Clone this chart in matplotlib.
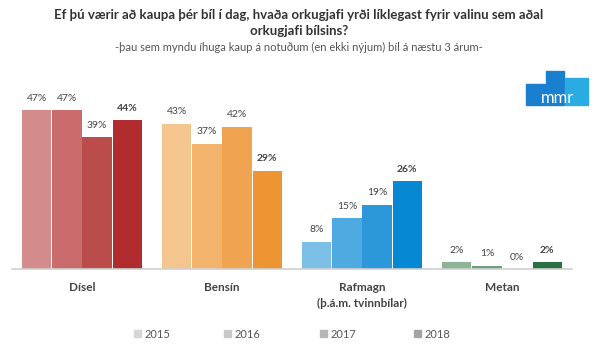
import numpy as np
import matplotlib.pyplot as plt
from matplotlib.patches import Rectangle

plt.rcParams['font.family'] = ['Lato', 'DejaVu Sans']

categories = ['Dísel', 'Bensín', 'Rafmagn\n(þ.á.m. tvinnbílar)', 'Metan']
years = ['2015', '2016', '2017', '2018']
values = {
    '2015': [47, 43, 8, 2],
    '2016': [47, 37, 15, 1],
    '2017': [39, 42, 19, 0],
    '2018': [44, 29, 26, 2],
}
colors = [
    ['#d48b8b', '#c96c6b', '#ba4c4c', '#b02c2f'],
    ['#f5c58f', '#f2b36d', '#f0a451', '#ed9533'],
    ['#7dc0e7', '#4eaae1', '#2c98d9', '#0688d3'],
    ['#8db497', '#6d9f7a', '#4f8a5e', '#2b7042'],
]
legend_colors = ['#d6d6d6', '#c8c8c8', '#b6b6b6', '#a4a4a4']

fig = plt.figure(figsize=(5.98, 3.58), dpi=100)
ax = fig.add_axes([12 / 598, 0.2486, 560 / 598, 0.514])

x = np.arange(len(categories))
w = 0.216
for j, yr in enumerate(years):
    vals = values[yr]
    pos = x + (j - 1.5) * w
    for i in range(len(categories)):
        ax.bar(pos[i], vals[i], width=w * 0.97, color=colors[i][j], zorder=2)
        ax.text(pos[i], vals[i] + 2.2, f'{vals[i]}%', ha='center', va='bottom',
                fontsize=7.5, color='#444444',
                fontweight='bold' if yr == '2018' else 'normal')

ax.set_xlim(-0.5, 3.5)
ax.set_ylim(0, 54.4)
ax.set_yticks([])
ax.set_xticks([])
for s in ['top', 'left', 'right']:
    ax.spines[s].set_visible(False)
ax.spines['bottom'].set_color('#d0d0d0')
ax.spines['bottom'].set_linewidth(1.2)
ax.set_xlim(-0.5, 3.5)

for i, c in enumerate(categories):
    ax.text(x[i], -3.8, c, ha='center', va='top', fontsize=8.5,
            color='#444444', fontweight='bold', linespacing=1.6)

# legend
lx = [134, 224, 320, 414]
for k, yr in enumerate(years):
    fig.patches.append(Rectangle((lx[k] / 598, 1 - 337 / 358), 7 / 598, 7 / 358,
                                 transform=fig.transFigure, color=legend_colors[k]))
    fig.text((lx[k] + 11) / 598, 1 - 334 / 358, yr, fontsize=8, color='#555555',
             va='center', ha='left')

fig.text(0.5, 1 - 23 / 358, 'Ef þú værir að kaupa þér bíl í dag, hvaða orkugjafi yrði líklegast fyrir valinu sem aðal\norkugjafi bílsins?',
         ha='center', va='center', fontsize=9.5, fontweight='bold', color='#333333',
         linespacing=1.45)
fig.text(0.5, 1 - 47 / 358, '-þau sem myndu íhuga kaup á notuðum (en ekki nýjum) bíl á næstu 3 árum-',
         ha='center', va='center', fontsize=8, color='#555555')

# mmr logo
for (x0, y0, x1, col) in [(526, 84, 545, '#1b7fcf'), (546, 71, 564, '#1b7fcf'), (565, 78, 588, '#2aace3')]:
    fig.patches.append(Rectangle((x0 / 598, 1 - 105 / 358), (x1 - x0) / 598, (105 - y0) / 358,
                                 transform=fig.transFigure, color=col))
fig.text(557 / 598, 1 - 98 / 358, 'mmr', ha='center', va='center', fontsize=12,
         color='white')

fig.savefig('out.png', dpi=100)
